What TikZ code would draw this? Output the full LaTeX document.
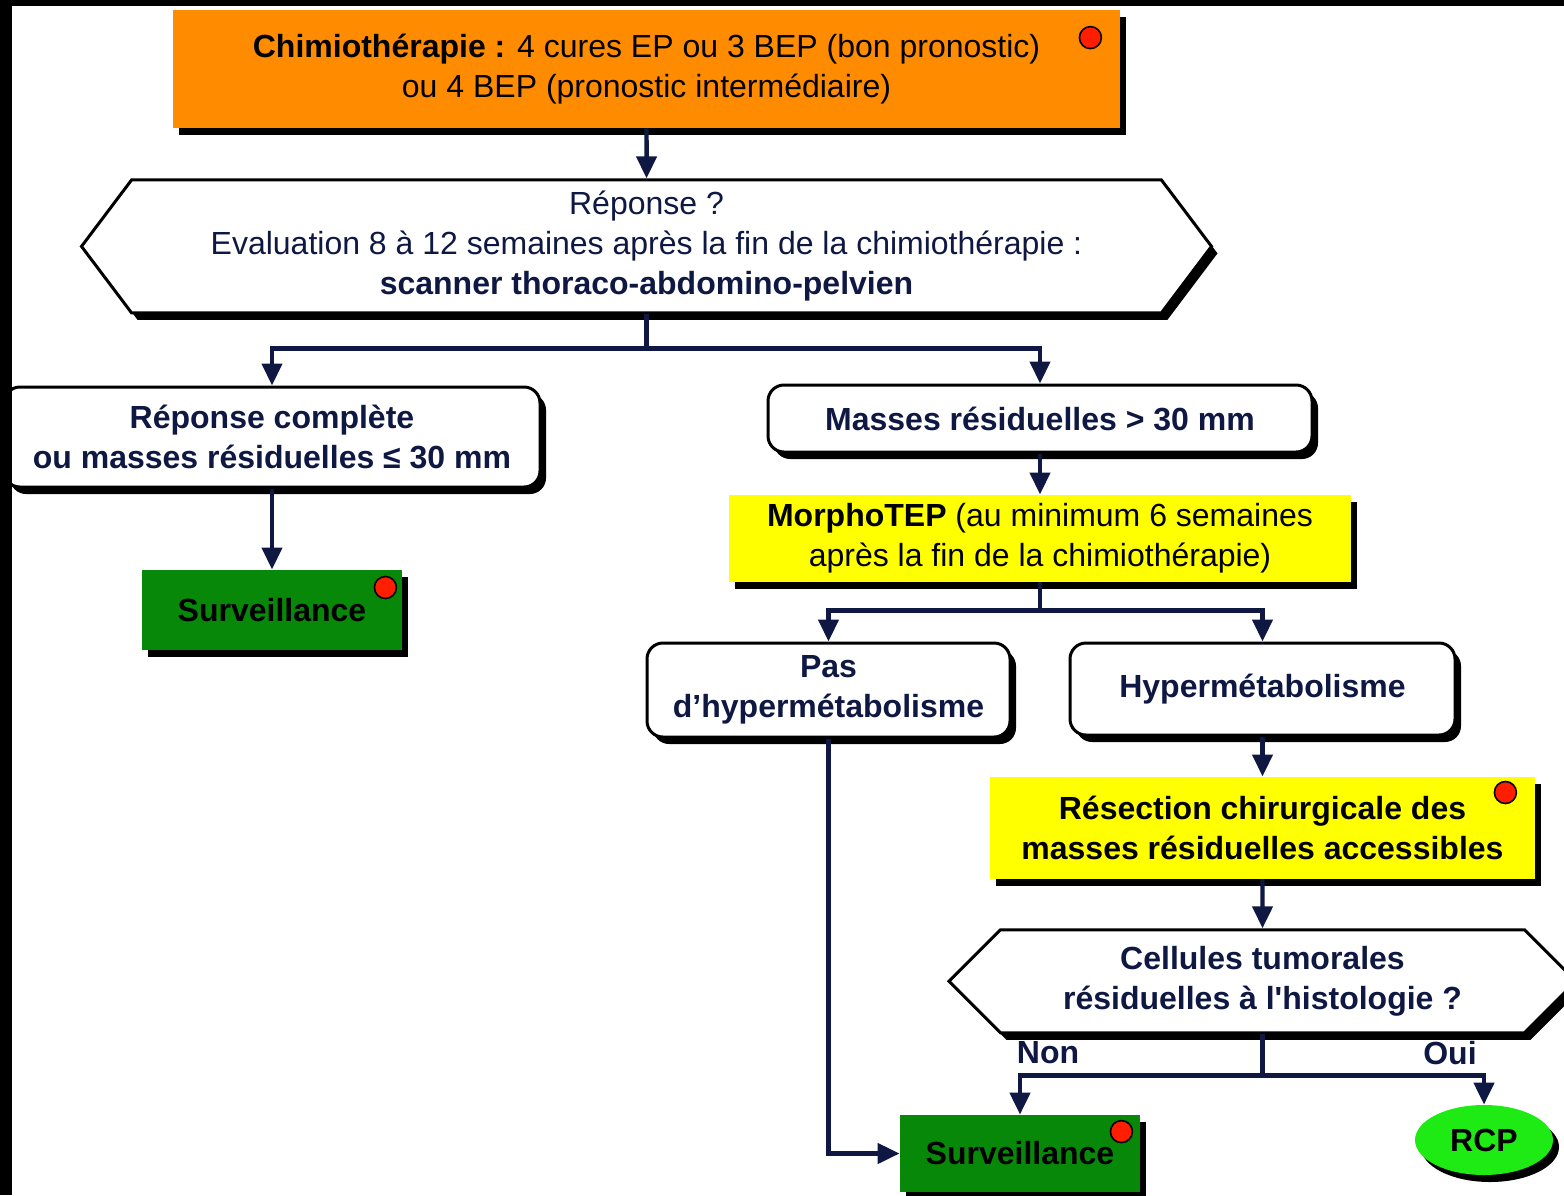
\documentclass[tikz,border=0pt]{standalone}
\usepackage{fontspec}
\setmainfont{Liberation Sans}
\usetikzlibrary{shapes.geometric,shapes.symbols,arrows.meta,positioning,shadows}

\definecolor{navytxt}{RGB}{14,24,66}
\definecolor{chimioorange}{RGB}{255,140,0}
\definecolor{tepyellow}{RGB}{255,255,0}
\definecolor{survgreen}{RGB}{8,136,8}
\definecolor{rcpgreen}{RGB}{30,235,20}
\definecolor{dotred}{RGB}{255,30,0}

\newcommand{\boxfont}{\fontsize{16}{20}\selectfont}

\tikzset{
  shadowed/.style={drop shadow={shadow xshift=3pt, shadow yshift=-3.5pt, opacity=1, fill=black}},
  plainbox/.style={shadowed, align=center, inner sep=2pt, font=\boxfont},
  whitebox/.style={plainbox, draw=black, line width=1.5pt, fill=white, rounded corners=8pt, text=navytxt, font=\boxfont\bfseries},
  hexbox/.style={plainbox, signal, signal to=west and east, draw=black, line width=1.5pt, fill=white, text=navytxt},
  colorbox/.style={plainbox, rectangle, text=black},
  survbox/.style={colorbox, fill=survgreen, font=\boxfont\bfseries, minimum width=120pt},
  reddot/.style={circle, draw=black, line width=0.8pt, fill=dotred, minimum size=11pt, inner sep=0pt},
  link/.style={draw=navytxt, line width=2.2pt},
  arrow/.style={link, -{Triangle[width=10pt,length=11pt]}},
  lbl/.style={text=navytxt, font=\boxfont\bfseries}
}

\begin{document}
\begin{tikzpicture}[x=0.5pt, y=-0.5pt]
  \useasboundingbox (0,0) rectangle (1564,1195);
  \fill[white] (0,0) rectangle (1564,1195);

  % first row
  \node [colorbox, fill=chimioorange, minimum width=473.5pt, minimum height=59pt] (chimio) at (646.5,69)
    {\textbf{Chimiothérapie :} 4 cures EP ou 3 BEP (bon pronostic)\\ ou 4 BEP (pronostic intermédiaire)};
  \node [hexbox, signal pointer angle=106, minimum width=565pt, minimum height=66.5pt, below=25pt of chimio] (reponse)
    {Réponse ?\\ Evaluation 8 à 12 semaines après la fin de la chimiothérapie :\\ \textbf{scanner thoraco-abdomino-pelvien}};

  % left branch
  \node [whitebox, minimum width=268pt, minimum height=50pt] (complete) at (272,437)
    {Réponse complète\\ ou masses résiduelles ≤ 30 mm};
  \node [survbox, minimum width=130pt, minimum height=40pt, below=40.5pt of complete] (surv1) {Surveillance};

  % right branch
  \node [whitebox, minimum width=272pt, minimum height=33.5pt] (masses) at (1040,418.5)
    {Masses résiduelles > 30 mm};
  \node [colorbox, fill=tepyellow, minimum width=311pt, minimum height=43.5pt, below=20.5pt of masses] (morpho)
    {\textbf{MorphoTEP} (au minimum 6 semaines\\ après la fin de la chimiothérapie)};
  \node [whitebox, minimum width=181.5pt, minimum height=47pt] (pas) at (828.5,690)
    {Pas\\ d’hypermétabolisme};
  \node [whitebox, minimum width=192.5pt, minimum height=46pt] (hyper) at (1262.5,689)
    {Hypermétabolisme};
  \node [colorbox, fill=tepyellow, font=\boxfont\bfseries, minimum width=272.5pt, minimum height=51pt, below=20pt of hyper] (resect)
    {Résection chirurgicale des\\ masses résiduelles accessibles};
  \node [hexbox, font=\boxfont\bfseries, signal pointer angle=90, minimum width=313.5pt, minimum height=51.5pt, below=24.5pt of resect] (cellules)
    {Cellules tumorales\\ résiduelles à l\textquotesingle histologie ?};
  \node [survbox, minimum width=120pt, minimum height=38.5pt] (surv2) at (1020,1153.5) {Surveillance};
  \node [ellipse, shadowed, fill=rcpgreen, font=\boxfont\bfseries, minimum width=69pt, minimum height=35pt, inner sep=0pt] (rcp) at (1484,1140) {RCP};

  % red markers
  \node [reddot] (dot1) at ([shift={(-30,28)}]chimio.north east) {};
  \node [reddot] (dot2) at ([shift={(-17,18)}]surv1.north east) {};
  \node [reddot] (dot3) at ([shift={(-30,16)}]resect.north east) {};
  \node [reddot] (dot4) at ([shift={(-19,17)}]surv2.north east) {};

  % connectors
  \coordinate (fork1) at ([yshift=-17pt]reponse.south);
  \coordinate (fork2) at ([yshift=-14pt]morpho.south);
  \coordinate (fork3) at ([yshift=-20.5pt]cellules.south);
  \draw [arrow] (chimio) -- (reponse);
  \draw [link] (reponse.south) -- (fork1);
  \draw [arrow] (fork1) -| (complete.north);
  \draw [arrow] (fork1) -| (masses.north);
  \draw [arrow] (complete) -- (surv1);
  \draw [arrow] (masses) -- (morpho);
  \draw [link] (morpho.south) -- (fork2);
  \draw [arrow] (fork2) -| (pas.north);
  \draw [arrow] (fork2) -| (hyper.north);
  \draw [arrow] (hyper) -- (resect);
  \draw [arrow] (resect) -- (cellules);
  \draw [link] (cellules.south) -- (fork3);
  \draw [arrow] (fork3) -| (surv2.north);
  \draw [arrow] (fork3) -| (rcp.north);
  \draw [arrow] (pas.south) |- (surv2.west);
  \node [lbl] (non) at (1048,1053) {Non};
  \node [lbl] (oui) at (1450,1053) {Oui};

  % frame edges
  \fill[black] (0,0) rectangle (12,1195);
  \fill[black] (0,0) rectangle (1564,6);
\end{tikzpicture}
\end{document}
